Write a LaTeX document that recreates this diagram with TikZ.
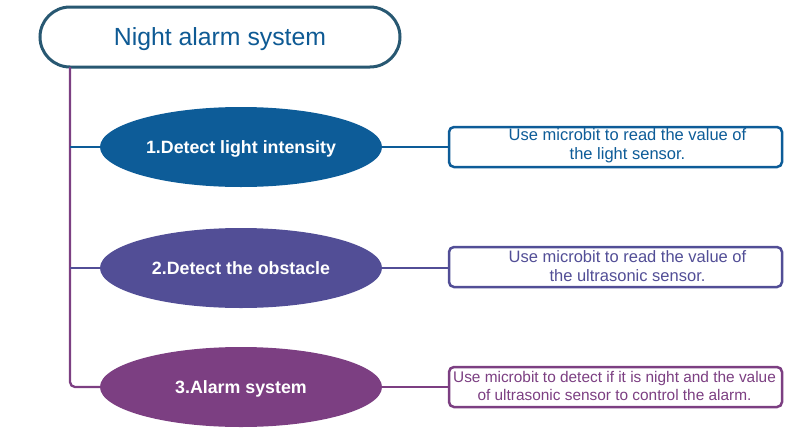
\documentclass[tikz,border=0pt]{standalone}
\usepackage{fontspec}
\setmainfont{Liberation Sans}
\usetikzlibrary{shapes.geometric}
\definecolor{titleborder}{RGB}{40,88,114}
\definecolor{titletext}{RGB}{14,90,148}
\definecolor{cblue}{RGB}{13,92,152}
\definecolor{cindigo}{RGB}{82,78,150}
\definecolor{cpurple}{RGB}{124,63,130}
\begin{document}
\begin{tikzpicture}[x=1pt,y=-1pt,
  titlebox/.style={draw=titleborder,line width=3pt,fill=white,rounded corners=30pt,
    minimum width=360pt,minimum height=60pt,inner sep=0pt,text height=17.8pt,text depth=0pt,
    text=titletext,font=\fontsize{24.8}{28}\selectfont},
  stage/.style={ellipse,fill=#1,draw=none,minimum width=282pt,minimum height=80pt,inner sep=0pt,
    text height=12.7pt,text depth=0pt,
    text=white,font=\bfseries\fontsize{17.8}{21}\selectfont},
  infobox/.style={draw=#1,line width=2.5pt,rounded corners=5pt,fill=white,
    minimum width=333pt,minimum height=40pt,inner sep=0pt},
  infotext/.style={align=center,inner sep=0pt,text=#1,font=\fontsize{16.5}{19}\selectfont},
  link/.style={draw=#1,line width=2.3pt}
]
\useasboundingbox (0,0) rectangle (810,431);
\node[titlebox] (title) at (220,37) {Night alarm system};
\coordinate (t0) at (70,67);
\node[stage=cblue] (e1) at (241,147) {1.Detect light intensity};
\node[stage=cindigo] (e2) at (241,268) {2.Detect the obstacle};
\node[stage=cpurple] (e3) at (241,387) {3.Alarm system};
\coordinate (v1) at (70,147);
\coordinate (v2) at (70,268);
% trunk
\draw[link=cpurple,rounded corners=5pt] (t0) |- (e3.west);
\draw[link=cblue] (v1) -- (e1.west);
\draw[link=cindigo] (v2) -- (e2.west);
% boxes
\node[infobox=cblue] (b1) at (615.5,147) {};
\node[infobox=cindigo] (b2) at (615.5,267) {};
\node[infobox=cpurple] (b3) at (615.5,387) {};
\node[infotext=cblue] (t1) at ([xshift=12pt,yshift=1pt]b1.center) {Use microbit to read the value of\\the light sensor.};
\node[infotext=cindigo] (t2) at ([xshift=12pt,yshift=1pt]b2.center) {Use microbit to read the value of\\the ultrasonic sensor.};
\node[infotext=cpurple,font=\fontsize{15.4}{18}\selectfont] (t3) at ([xshift=-1pt,yshift=1pt]b3.center) {Use microbit to detect if it is night and the value\\of ultrasonic sensor to control the alarm.};
\draw[link=cblue] (e1.east) -- (b1.west);
\draw[link=cindigo] (e2.east) -- (e2.east -| b2.west);
\draw[link=cpurple] (e3.east) -- (b3.west);
\end{tikzpicture}
\end{document}
